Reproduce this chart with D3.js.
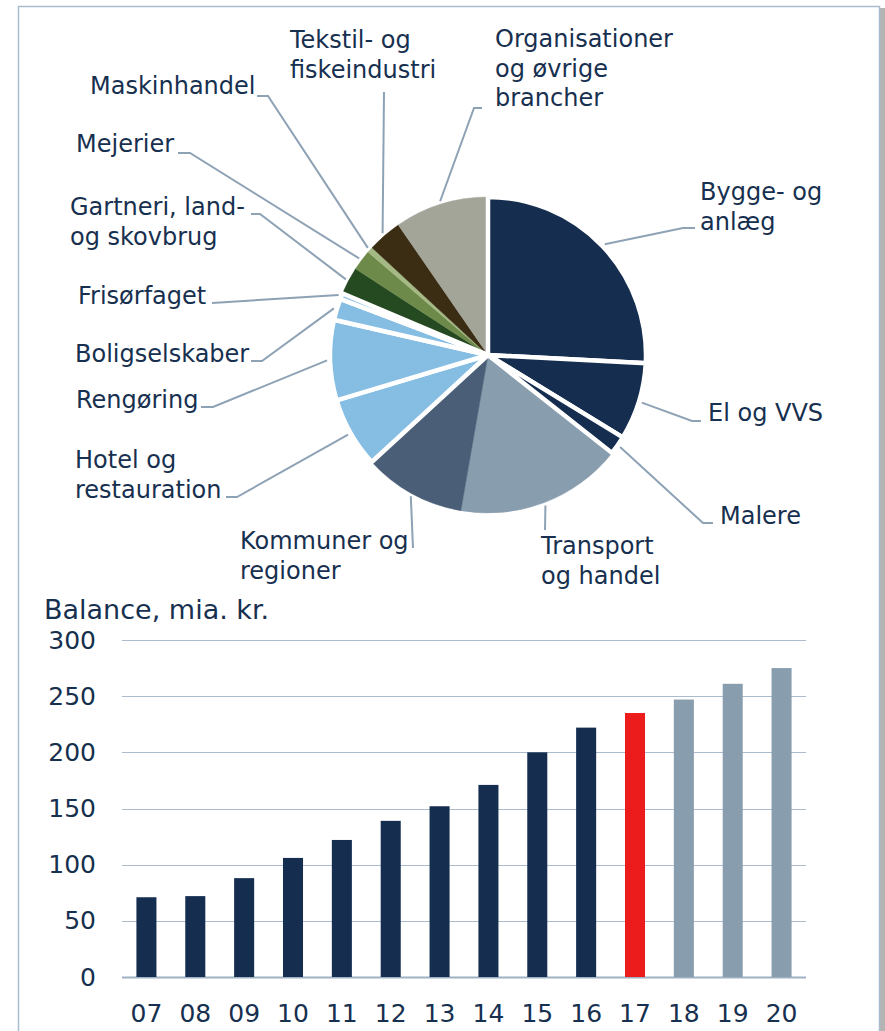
<!DOCTYPE html>
<html>
<head>
<meta charset="utf-8">
<script src="https://cdn.jsdelivr.net/npm/d3@7"></script>
<style>
  html, body { margin: 0; padding: 0; background: #ffffff; }
  svg { display: block; font-family: "DejaVu Sans", Verdana, sans-serif; }
</style>
</head>
<body>
<svg id="chart" width="885" height="1031"></svg>
<script>
// ---------- DATA ----------
const pieCategories = ["Bygge- og anlæg", "El og VVS", "Malere", "Transport og handel",
  "Kommuner og regioner", "Hotel og restauration", "Rengøring", "Boligselskaber",
  "Frisørfaget", "Gartneri, land- og skovbrug", "Mejerier", "Maskinhandel",
  "Tekstil- og fiskeindustri", "Organisationer og øvrige brancher"];
const pieValues = [25.8, 7.9, 1.9, 17.1, 10.4, 7.2, 8.2, 2.2, 0.6, 2.8, 2.1, 0.6, 3.5, 9.6];

const barYears = ["07","08","09","10","11","12","13","14","15","16","17","18","19","20"];
const barValues = [71, 72, 88, 106, 122, 139, 152, 171, 200, 222, 235, 247, 261, 275];
const barTypes  = ["h","h","h","h","h","h","h","h","h","h","c","f","f","f"]; // historic, current, forecast
const yTicks = [0, 50, 100, 150, 200, 250, 300];
const yTitle = "Balance, mia. kr.";

// ---------- STYLE / LAYOUT ----------
const textColor = "#17304f";
const lineColor = "#8ea2b5";
const pieColors = ["#152d4f","#152d4f","#152d4f","#889dae","#4a5f77","#85bde3","#85bde3",
  "#85bde3","#85bde3","#254a22","#6e8a4a","#a4b984","#3b2c14","#a3a598"];
const pieStroked = [true,true,true,false,false,true,true,true,true,false,false,false,false,false];
const barColor = { h: "#152d4f", c: "#ec1c1c", f: "#889dae" };

// label layout: lines, text left x, first baseline, leader waypoints after the arc point
const labelLayout = [
  { lines: ["Bygge- og", "anlæg"], x: 700, y: 200, pts: [[683,228],[695,228]] },
  { lines: ["El og VVS"], x: 708, y: 421, pts: [[692,421],[701,421]] },
  { lines: ["Malere"], x: 720, y: 524, pts: [[703,523],[713,523]] },
  { lines: ["Transport", "og handel"], x: 541, y: 554, pts: [[545,530]] },
  { lines: ["Kommuner og", "regioner"], x: 240, y: 549, pts: [[413,548]] },
  { lines: ["Hotel og", "restauration"], x: 75, y: 468, pts: [[237,497],[226,497]] },
  { lines: ["Rengøring"], x: 76, y: 408, pts: [[213,407],[201,407]] },
  { lines: ["Boligselskaber"], x: 75, y: 362, pts: [[262,361],[251,361]] },
  { lines: ["Frisørfaget"], x: 78, y: 304, pts: [[212,303]] },
  { lines: ["Gartneri, land-", "og skovbrug"], x: 70, y: 215, pts: [[260,214],[251,214]] },
  { lines: ["Mejerier"], x: 76, y: 152, pts: [[190,153],[178,153]] },
  { lines: ["Maskinhandel"], x: 90, y: 94, pts: [[268,96],[257,96]] },
  { lines: ["Tekstil- og", "fiskeindustri"], x: 290, y: 48, pts: [[384,92]] },
  { lines: ["Organisationer", "og øvrige", "brancher"], x: 495, y: 47, pts: [[474,108],[482,108]] }
];

const svg = d3.select("#chart");

// ---------- PANEL ----------
svg.append("rect").attr("x", 880).attr("y", 8).attr("width", 5).attr("height", 1031)
  .attr("fill", "#b4b4b4");
svg.append("rect").attr("x", 18.5).attr("y", 6.5).attr("width", 861).attr("height", 1040)
  .attr("fill", "#ffffff").attr("stroke", "#a9bbcd").attr("stroke-width", 1.5);

// ---------- PIE ----------
const cx = 488, cy = 355, R = 158;
const pie = d3.pie().sort(null).value(d => d)(pieValues);
const arc = d3.arc().innerRadius(0).outerRadius(R);
const outerArc = d3.arc().innerRadius(161).outerRadius(161);
const pg = svg.append("g").attr("transform", `translate(${cx},${cy})`);

// leader lines
const lineGen = d3.line();
labelLayout.forEach((lab, i) => {
  const c = outerArc.centroid(pie[i]);
  const pts = [[cx + c[0], cy + c[1]]].concat(lab.pts);
  svg.append("path").attr("d", lineGen(pts)).attr("fill", "none")
    .attr("stroke", lineColor).attr("stroke-width", 2);
});

const order = d3.range(pie.length).sort((a, b) => (pieStroked[a] ? 1 : 0) - (pieStroked[b] ? 1 : 0));
order.forEach(i => {
  pg.append("path").attr("d", arc(pie[i])).attr("fill", pieColors[i])
    .attr("stroke", pieStroked[i] ? "#ffffff" : pieColors[i])
    .attr("stroke-width", pieStroked[i] ? 4.5 : 0.5)
    .attr("stroke-linejoin", "miter");
});

// labels
labelLayout.forEach(lab => {
  const t = svg.append("text").attr("x", lab.x).attr("y", lab.y)
    .attr("font-size", 24).attr("fill", textColor);
  lab.lines.forEach((ln, k) => {
    t.append("tspan").attr("x", lab.x).attr("dy", k === 0 ? 0 : 29.5).text(ln);
  });
});

// ---------- BAR CHART ----------
const x = d3.scaleBand().domain(barYears).range([122, 806]).paddingInner(0.59).paddingOuter(0.295);
const y = d3.scaleLinear().domain([0, 300]).range([977, 640]);

const grid = svg.append("g");
yTicks.forEach(v => {
  grid.append("line").attr("x1", 122).attr("x2", 806)
    .attr("y1", Math.round(y(v)) + 0.5).attr("y2", Math.round(y(v)) + 0.5)
    .attr("stroke", v === 0 ? "#9fb2c4" : "#a9bbcd").attr("stroke-width", v === 0 ? 2 : 1);
});

svg.append("g").selectAll("rect").data(barValues).join("rect")
  .attr("x", (d, i) => x(barYears[i]))
  .attr("width", x.bandwidth())
  .attr("y", d => y(d))
  .attr("height", d => y(0) - y(d))
  .attr("fill", (d, i) => barColor[barTypes[i]]);

// y axis labels
const yAxis = d3.axisLeft(y).tickValues(yTicks).tickSize(0).tickPadding(0);
const yg = svg.append("g").attr("transform", "translate(96,0)").call(yAxis);
yg.select(".domain").remove();
yg.selectAll("text").attr("font-size", 25).attr("fill", textColor)
  .attr("font-family", "DejaVu Sans, Verdana, sans-serif");

// x axis labels
const xAxis = d3.axisBottom(x).tickSize(0).tickPadding(0);
const xg = svg.append("g").attr("transform", "translate(0,1004)").call(xAxis);
xg.select(".domain").remove();
xg.selectAll("text").attr("font-size", 25).attr("fill", textColor)
  .attr("font-family", "DejaVu Sans, Verdana, sans-serif");

svg.append("text").attr("x", 44).attr("y", 619).attr("font-size", 27)
  .attr("fill", textColor).text(yTitle);
</script>
</body>
</html>
